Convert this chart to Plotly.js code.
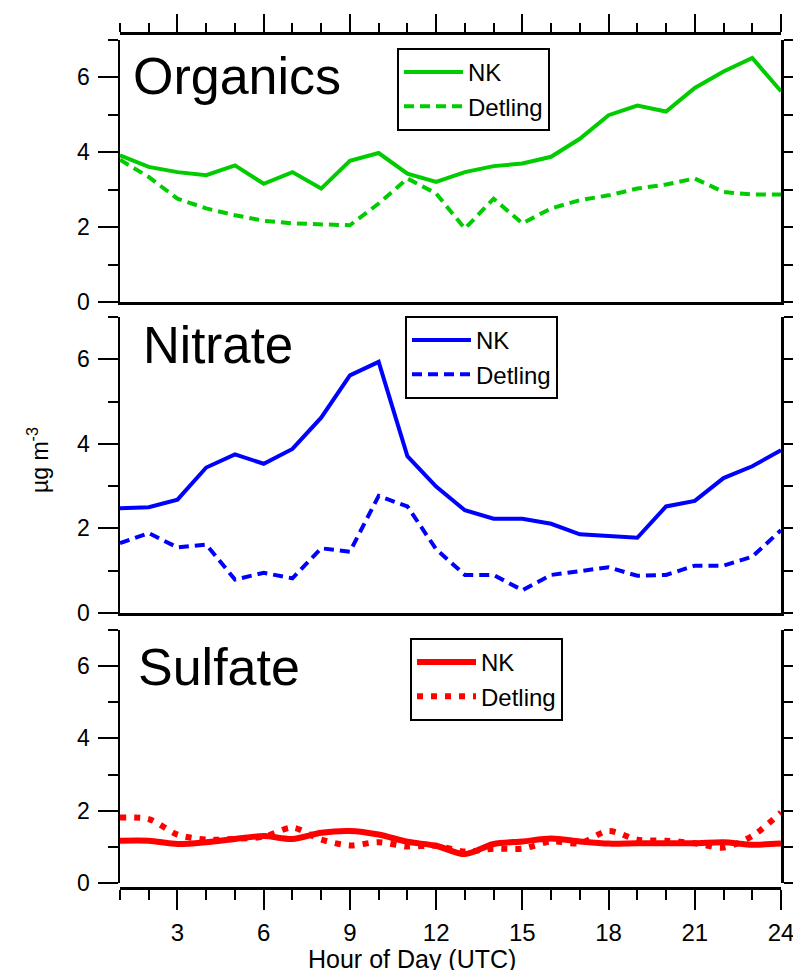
<!DOCTYPE html>
<html>
<head>
<meta charset="utf-8">
<script src="https://cdn.plot.ly/plotly-3.0.1.min.js"></script>
<style>html,body{margin:0;padding:0;background:#fff;}</style>
</head>
<body>
<div id="chart" style="width:793px;height:970px;"></div>
<script>
const hours = [1,2,3,4,5,6,7,8,9,10,11,12,13,14,15,16,17,18,19,20,21,22,23,24];
const xTickVals = [3,6,9,12,15,18,21,24];
const yTickVals = [0,2,4,6];

const organicsNK = [3.92,3.61,3.47,3.39,3.65,3.16,3.47,3.03,3.77,3.98,3.43,3.21,3.47,3.63,3.70,3.88,4.36,4.99,5.25,5.09,5.72,6.16,6.52,5.63];
const organicsDetling = [3.80,3.34,2.76,2.50,2.32,2.17,2.10,2.07,2.05,2.63,3.30,2.90,1.96,2.76,2.10,2.50,2.72,2.85,3.03,3.14,3.30,2.94,2.87,2.87];

const nitrateNK = [2.48,2.50,2.68,3.44,3.75,3.53,3.88,4.62,5.62,5.94,3.71,2.99,2.43,2.23,2.23,2.11,1.86,1.83,1.78,2.52,2.65,3.19,3.47,3.85];
const nitrateDetling = [1.65,1.89,1.55,1.62,0.79,0.95,0.82,1.53,1.45,2.77,2.52,1.51,0.90,0.90,0.54,0.90,0.99,1.08,0.88,0.90,1.12,1.12,1.33,1.96];

const sulfateNK = [1.17,1.17,1.08,1.13,1.22,1.30,1.22,1.39,1.44,1.34,1.14,1.03,0.80,1.08,1.15,1.23,1.15,1.09,1.10,1.10,1.10,1.13,1.06,1.09];
const sulfateDetling = [1.81,1.77,1.34,1.20,1.22,1.28,1.53,1.20,1.04,1.13,1.01,1.03,0.87,0.95,0.95,1.15,1.10,1.44,1.20,1.17,1.10,0.98,1.30,1.95];

const seriesNames = ['NK','Detling'];
const panelNames = ['Organics','Nitrate','Sulfate'];

const GREEN = '#00cc00', BLUE = '#0000ff', RED = '#ff0000';
const FONT = 'Liberation Sans, Arial, sans-serif';
const H = 970, W = 793;
const py = p => 1 - p / H;
const px = p => p / W;

const traces = [
  {x: hours, y: organicsNK, name: seriesNames[0], xaxis:'x', yaxis:'y', legend:'legend', mode:'lines', line:{color:GREEN, width:4}},
  {x: hours, y: organicsDetling, name: seriesNames[1], xaxis:'x', yaxis:'y', legend:'legend', mode:'lines', line:{color:GREEN, width:4, dash:'10px,6px'}},
  {x: hours, y: nitrateNK, name: seriesNames[0], xaxis:'x2', yaxis:'y2', legend:'legend2', mode:'lines', line:{color:BLUE, width:4}},
  {x: hours, y: nitrateDetling, name: seriesNames[1], xaxis:'x2', yaxis:'y2', legend:'legend2', mode:'lines', line:{color:BLUE, width:4, dash:'10px,6px'}},
  {x: hours, y: sulfateNK, name: seriesNames[0], xaxis:'x3', yaxis:'y3', legend:'legend3', mode:'lines', line:{color:RED, width:6, shape:'spline', smoothing:0.8}},
  {x: hours, y: sulfateDetling, name: seriesNames[1], xaxis:'x3', yaxis:'y3', legend:'legend3', mode:'lines', line:{color:RED, width:6, dash:'6px,8px', shape:'spline', smoothing:0.8}},
  {x: [], y: [], xaxis:'x4', yaxis:'y', showlegend:false, hoverinfo:'skip', mode:'lines'}
];

const xDom = [px(120), px(781)];
const baseY = {
  range:[0,7], tickvals: yTickVals, ticks:'outside', ticklen:20, tickwidth:2, tickcolor:'#000',
  showline:true, linewidth:2.5, linecolor:'#000', mirror:'ticks', showgrid:false, zeroline:false,
  minor:{dtick:1, tick0:0, ticks:'outside', ticklen:10, tickwidth:2, tickcolor:'#000'},
  tickfont:{family:FONT, size:23, color:'#000'}, ticklabelstandoff:3
};
const plainX = {
  range:[1,24], domain:xDom, showline:true, linewidth:2.5, linecolor:'#000', ticks:'', showticklabels:false,
  showgrid:false, zeroline:false
};
const legendBase = {
  xanchor:'left', yanchor:'top', bgcolor:'#fff', bordercolor:'#000', borderwidth:2,
  font:{family:FONT, size:24, color:'#000'}, itemwidth:59, tracegroupgap:0
};

const layout = {
  width:W, height:H, margin:{l:0,r:0,t:0,b:0},
  paper_bgcolor:'#fff', plot_bgcolor:'rgba(0,0,0,0)',
  font:{family:FONT, color:'#000'},
  showlegend:true,
  xaxis: Object.assign({}, plainX, {anchor:'y'}),
  xaxis2: Object.assign({}, plainX, {anchor:'y2'}),
  xaxis3: {
    range:[1,24], domain:xDom, anchor:'free', position:py(888),
    showline:true, linewidth:2.5, linecolor:'#000',
    tickvals:xTickVals, ticks:'outside', ticklen:20, tickwidth:2, tickcolor:'#000',
    minor:{dtick:1, tick0:0, ticks:'outside', ticklen:10, tickwidth:2, tickcolor:'#000'},
    tickfont:{family:FONT, size:24, color:'#000'}, ticklabelstandoff:3, ticklabeloverflow:'allow',
    showgrid:false, zeroline:false
  },
  xaxis4: {
    range:[1,24], overlaying:'x', side:'top', anchor:'free', position:py(33),
    showline:true, linewidth:2.5, linecolor:'#000',
    tickvals:xTickVals, ticks:'outside', ticklen:18, tickwidth:2, tickcolor:'#000',
    minor:{dtick:1, tick0:0, ticks:'outside', ticklen:9, tickwidth:2, tickcolor:'#000'},
    showticklabels:false, showgrid:false, zeroline:false
  },
  yaxis: Object.assign({}, baseY, {anchor:'x', domain:[py(302), py(40)]}),
  yaxis2: Object.assign({}, baseY, {anchor:'x2', domain:[py(613), py(317)]}),
  yaxis3: Object.assign({}, baseY, {anchor:'x3', domain:[py(883), py(630)]}),
  legend: Object.assign({}, legendBase, {x:px(397), y:py(48)}),
  legend2: Object.assign({}, legendBase, {x:px(405), y:py(316)}),
  legend3: Object.assign({}, legendBase, {x:px(410), y:py(638)}),
  annotations: [
    {text:panelNames[0], xref:'paper', yref:'paper', x:px(131), y:py(76), xanchor:'left', yanchor:'middle', showarrow:false, font:{family:FONT, size:52, color:'#000'}},
    {text:panelNames[1], xref:'paper', yref:'paper', x:px(141), y:py(345), xanchor:'left', yanchor:'middle', showarrow:false, font:{family:FONT, size:51, color:'#000'}},
    {text:panelNames[2], xref:'paper', yref:'paper', x:px(136), y:py(667), xanchor:'left', yanchor:'middle', showarrow:false, font:{family:FONT, size:52, color:'#000'}},
    {text:'µg m<sup>-3</sup>', xref:'paper', yref:'paper', x:px(38), y:py(460), xanchor:'center', yanchor:'middle', textangle:-90, showarrow:false, font:{family:FONT, size:23, color:'#000'}},
    {text:'Hour of Day (UTC)', xref:'paper', yref:'paper', x:px(412), y:py(959), xanchor:'center', yanchor:'middle', showarrow:false, font:{family:FONT, size:25, color:'#000'}}
  ]
};

Plotly.newPlot('chart', traces, layout, {displayModeBar:false, staticPlot:true});
</script>
</body>
</html>
